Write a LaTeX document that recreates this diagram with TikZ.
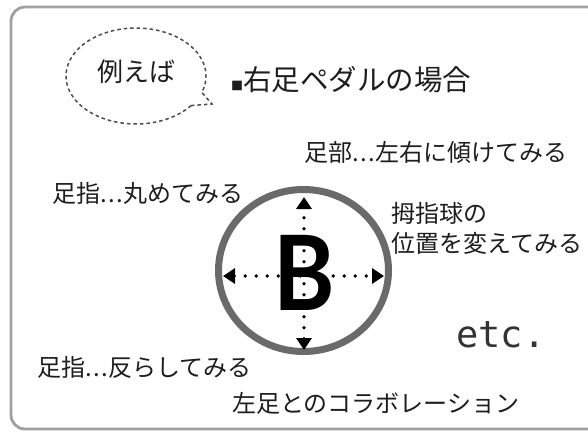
\documentclass[tikz,border=0pt]{standalone}
\usepackage{fontspec}
\setmainfont{Noto Sans CJK JP}
\newfontfamily\etcfont{DejaVu Sans Mono}
\newfontfamily\bfont{Lato}
\usetikzlibrary{arrows.meta}
\definecolor{txt}{HTML}{1E1E1E}
\definecolor{ringgray}{HTML}{6A6A6A}
\definecolor{framegray}{HTML}{A0A0A0}
\definecolor{etcgray}{HTML}{333333}
\begin{document}
\begin{tikzpicture}[x=1pt,y=-1pt,
  lbl/.style={anchor=west,inner sep=0pt,text=txt,font=\fontsize{24}{28}\selectfont},
  dotarrow/.style={black,line width=3.8pt,dash pattern=on 0pt off 11pt,line cap=round,
    {Triangle[length=12pt,width=15pt]}-{Triangle[length=12pt,width=15pt]}},
  frameline/.style={framegray,line width=2.8pt,rounded corners=14pt},
  bubble/.style={draw=black!70,line width=1.5pt,dash pattern=on 3.5pt off 3pt},
]
\useasboundingbox (0,0) rectangle (588,432);
\fill[white] (0,0) rectangle (588,432);
% frame
\draw[frameline] (605,7) -- (11,7) -- (11,429) -- (605,429);
% speech bubble
\draw[bubble] plot[domain=38:380,samples=90] ({136+70*cos(\x)},{76+48*sin(\x)}) -- (212,104) -- cycle;
\node[inner sep=0pt,text=txt,font=\fontsize{26}{29}\selectfont] (ex) at (136,72) {例えば};
% title
\node[anchor=west,inner sep=0pt,text=txt,font=\fontsize{28.5}{31}\selectfont] (title) at (231,80)
  {{\fontsize{12}{12}\selectfont ■}右足ペダルの場合};
% labels
\node[lbl] (l1) at (304,152) {足部.\kern1.5pt.\kern1.5pt.左右に傾けてみる};
\node[lbl] (l2) at (52,193) {足指.\kern1.5pt.\kern1.5pt.丸めてみる};
\node[lbl] (l3) at (391,213) {拇指球の};
\node[lbl] (l4) at (391,243) {位置を変えてみる};
\node[lbl] (l5) at (37,367) {足指.\kern1.5pt.\kern1.5pt.反らしてみる};
\node[lbl] (l6) at (232,403) {左足とのコラボレーション};
\node[anchor=base west,inner sep=0pt,text=etcgray,font=\etcfont\fontsize{37}{40}\selectfont] (etc) at (456,347)
  {etc.};
% ring and B
\draw[ringgray,line width=7pt] (303.5,270.5) ellipse [x radius=85pt,y radius=81pt];
\node[anchor=base,inner sep=0pt,text=black,xscale=0.9,font=\bfont\bfseries\fontsize{104}{104}\selectfont] (B) at (304,310) {B};
% arrows
\coordinate (up) at (304,197);
\coordinate (dn) at (304,350);
\coordinate (lf) at (223,276);
\coordinate (rt) at (384,276);
\draw[dotarrow] (dn) -- (up);
\draw[dotarrow] (lf) -- (rt);
\end{tikzpicture}
\end{document}
